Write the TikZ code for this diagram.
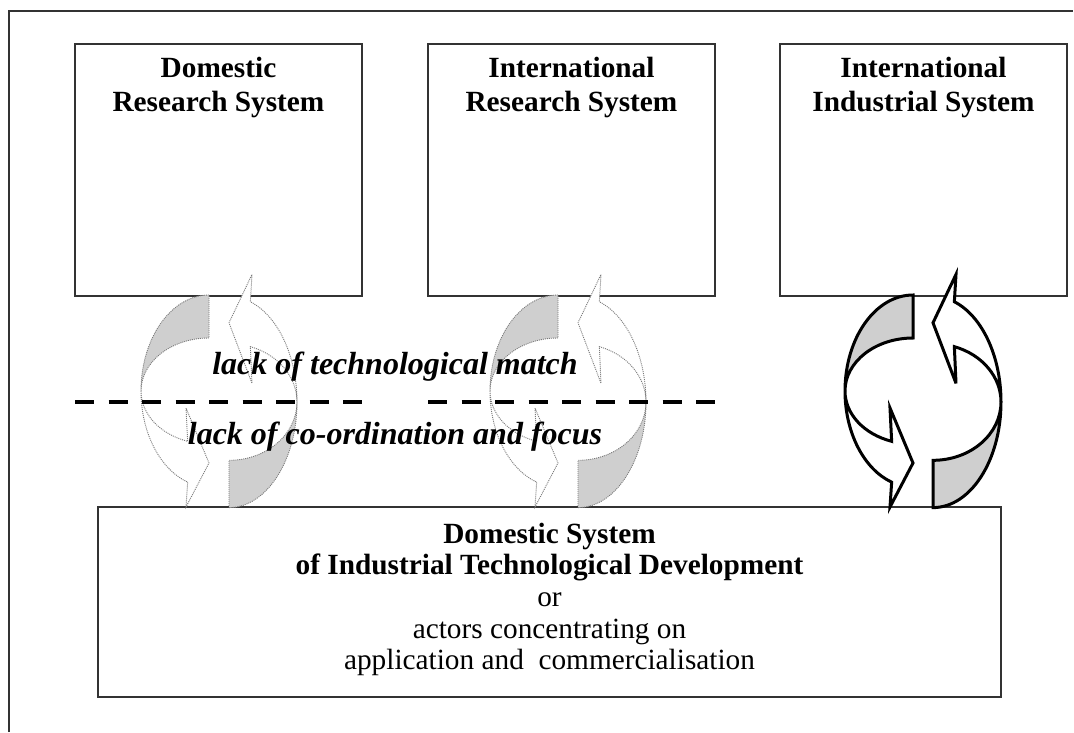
\documentclass[tikz,border=0pt]{standalone}
\usepackage{fontspec}
\setmainfont{Liberation Serif}
\definecolor{backgray}{HTML}{CFCFCF}
\definecolor{linegray}{HTML}{333333}
\definecolor{dotgray}{HTML}{7A7A7A}
\tikzset{
  pics/twistarrow/.style={code={
    \path[pic actions, fill=backgray] (0,96)
      arc[start angle=90, end angle=180, x radius=68, y radius=96]
      arc[start angle=180, end angle=90, x radius=68, y radius=53] -- cycle;
    \path[pic actions, fill=white] (-68,0)
      arc[start angle=180, end angle=251.7, x radius=68, y radius=96]
      -- (-23,-116) -- (0,-72) -- (-23,-17) -- (251.7:68 and 53)
      arc[start angle=251.7, end angle=180, x radius=68, y radius=53] -- cycle;
  }}
}
\begin{document}
\begin{tikzpicture}[x=1pt,y=1pt,
  box/.style={draw=linegray, line width=1.2pt, inner sep=0pt, fill=white},
  frameline/.style={draw=linegray, line width=1.4pt},
  title/.style={anchor=base, inner sep=0pt, font=\bfseries\fontsize{29.3}{33}\selectfont},
  plain/.style={anchor=base, inner sep=0pt, font=\fontsize{29.3}{33}\selectfont},
  gap/.style={anchor=base, inner sep=0pt, font=\bfseries\itshape\fontsize{32}{36}\selectfont},
  dotarrow/.style={draw=dotgray, line width=0.9pt, dash pattern=on 1pt off 1pt, line join=miter},
  solidarrow/.style={draw=black, line width=3pt, line join=miter, miter limit=6},
  dashline/.style={draw=black, line width=4.5pt, dash pattern=on 19pt off 14.5pt}
]
\useasboundingbox (0,0) rectangle (1074,-732);

% outer frame (cropped)
\coordinate (fbl) at (9,-732);
\coordinate (ftl) at (9,-11);
\coordinate (ftr) at (1073,-11);
\draw[frameline] (fbl) -- (ftl) -- (ftr);

% boxes
\node[box, minimum width=287pt, minimum height=252pt] (drs) at (218.5,-170) {};
\node[box, minimum width=287pt, minimum height=252pt] (irs) at (571.5,-170) {};
\node[box, minimum width=287pt, minimum height=252pt] (iis) at (923.5,-170) {};
\node[box, minimum width=903pt, minimum height=190pt] (dsi) at (549.5,-602) {};

% cycle arrows
\pic[dotarrow] (c1l) at (209,-391) {twistarrow};
\pic[dotarrow, rotate=180, yscale=1.1] (c1r) at (229,-402) {twistarrow};
\pic[dotarrow] (c2l) at (558,-391) {twistarrow};
\pic[dotarrow, rotate=180, yscale=1.1] (c2r) at (578,-402) {twistarrow};
\pic[solidarrow] (c3l) at (913,-391) {twistarrow};
\pic[solidarrow, rotate=180, yscale=1.1] (c3r) at (933,-402) {twistarrow};

% dashed lines
\coordinate (d1a) at (75,-402);
\coordinate (d1b) at (362,-402);
\coordinate (d2a) at (428,-402);
\coordinate (d2b) at (715,-402);
\draw[dashline] (d1a) -- (d1b);
\draw[dashline] (d2a) -- (d2b);

% texts
\node[title] (drs1) at (218.5,-77) {Domestic};
\node[title] (drs2) at (218.5,-111) {Research System};
\node[title] (irs1) at (571.5,-77) {International};
\node[title] (irs2) at (571.5,-111) {Research System};
\node[title] (iis1) at (923.5,-77) {International};
\node[title] (iis2) at (923.5,-111) {Industrial System};

\node[title] (dsi1) at (549.5,-543) {Domestic System};
\node[title] (dsi2) at (549.5,-574) {of Industrial Technological Development};
\node[plain] (dsi3) at (549.5,-606) {or};
\node[plain] (dsi4) at (549.5,-638) {actors concentrating on};
\node[plain] (dsi5) at (549.5,-669) {application and~~commercialisation};

\node[gap] (gap1) at (395,-374) {lack of technological match};
\node[gap] (gap2) at (395,-444) {lack of co-ordination and focus};
\end{tikzpicture}
\end{document}
